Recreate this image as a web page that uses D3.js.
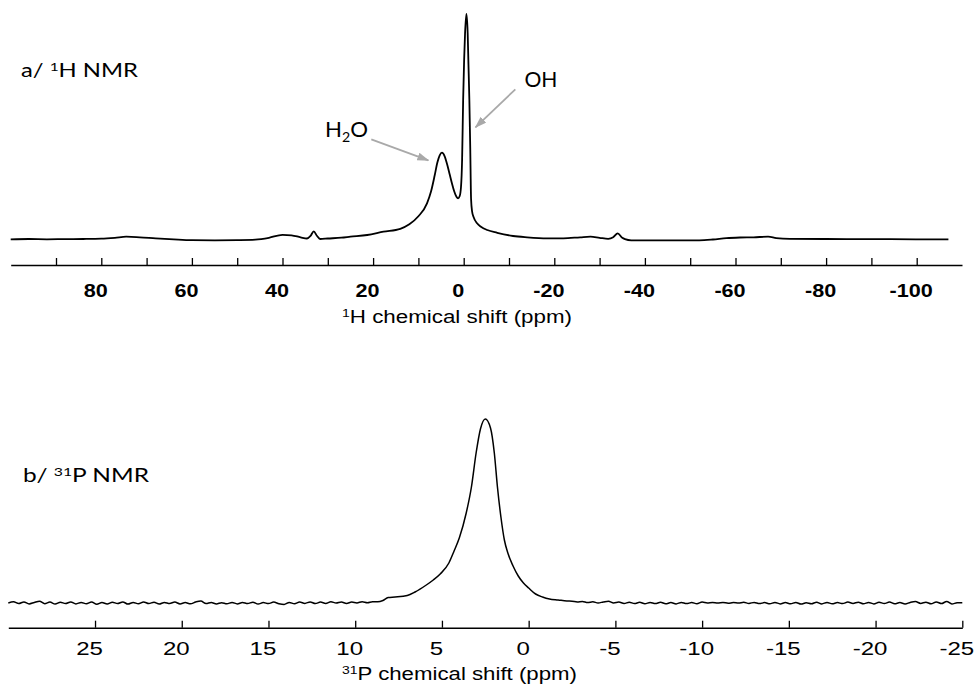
<!DOCTYPE html>
<html>
<head>
<meta charset="utf-8">
<script src="https://cdn.jsdelivr.net/npm/d3@7"></script>
<style>
  body { margin: 0; background: #fff; }
  svg { display: block; }
</style>
</head>
<body>
<svg id="chart" width="976" height="691"></svg>
<script>
// 1H spectrum, [ppm, intensity]
var protonSpectrum = [
  [100,0],[96,0.3],[92,0],[88,0.2],[84,0.3],[80,0.6],[77,1.5],[74.5,2.6],[71.5,2],[68,1],[64,0],
  [60,-0.8],[55,-1],[50,-0.8],[46,-0.3],[43,1.5],[40,4.5],[38,4],[36,2],[34.6,0.8],[33.8,3.5],
  [33.1,8],[32.4,3.5],[31.7,0.3],[30,0.8],[27,1.6],[25,2.6],[21.3,4.3],[17.7,7.6],[14,10.5],
  [12,15],[10,23],[8.1,36],[7.2,48],[6.4,64],[5.8,77],[5.3,84],[4.8,86.6],[4.2,83],[3.66,75],
  [3.1,65],[2.6,56],[2.1,48],[1.6,42.5],[1.24,41],[0.9,43],[0.6,52],[0.35,80],[0.12,140],[-0.1,180],
  [-0.3,206],[-0.6,225.3],[-0.88,206],[-1.05,175],[-1.25,139],[-1.45,90],[-1.63,40],[-1.85,28],
  [-2.2,22],[-2.95,16],[-3.8,12.6],[-5.2,9.3],[-7.4,6.5],[-10.9,3.3],[-14,2],[-18.4,1],[-22,1],
  [-25.7,2],[-28,2.6],[-30,1.5],[-31.9,0.5],[-33,2],[-34,6],[-35,1.5],[-35.6,0.2],[-37,-1],
  [-45,-1],[-52,-1],[-55,-0.2],[-58,1.2],[-61,1.8],[-64,2],[-67.2,2.6],[-69,1.2],[-72,0.4],[-80,0.3],
  [-90,0.2],[-100,0],[-107,0]
];

// 31P spectrum, [ppm, intensity]
var phosphorusSpectrum = [
  [30,0],[29.7,1.2],[29.4,-0.6],[29.1,1],[28.8,-0.9],[28.5,0.6],[28.2,1.8],[27.9,-0.7],[27.6,0.9],
  [27.3,-1],[27,0.8],[26.7,-0.5],[26.4,1.1],[26.1,-0.9],[25.8,0.6],[25.5,-0.8],[25.2,0.9],
  [24.9,-1.3],[24.6,0.5],[24.3,-0.9],[24,0.8],[23.7,-0.6],[23.4,1.1],[23.1,-1.1],[22.8,0.6],
  [22.5,-0.8],[22.2,1],[21.9,-0.6],[21.6,0.8],[21.3,-1],[21,0.6],[20.7,-0.5],[20.4,0.9],
  [20.1,-0.9],[19.8,0.4],[19.5,-0.8],[19.2,1],[18.9,2],[18.6,-0.6],[18.3,0.5],[18,-0.9],
  [17.7,0.3],[17.4,-0.8],[17.1,0.6],[16.8,-0.9],[16.5,0.5],[16.2,-0.6],[15.9,0.8],[15.6,-1.1],
  [15.3,0.4],[15,-0.6],[14.7,0.9],[14.4,-0.7],[14.1,-1.5],[13.8,0.6],[13.5,-0.8],[13.2,0.9],
  [12.9,-0.4],[12.6,1.1],[12.3,-0.6],[12,0.9],[11.7,-0.4],[11.4,1.2],[11.1,0],[10.8,1],
  [10.5,-0.4],[10.2,0.9],[9.9,0.1],[9.6,1.3],[9.3,0.3],[9,1.3],[8.7,1.2],
  [8.4,2.5],[8.1,5.5],[7.7,6],[7,7.5],[6.55,11],[5.9,18],[5.5,23],[5.1,29],[4.6,40],[4.3,52],
  [4,65],[3.6,90],[3.3,116],[3.03,150],[2.78,174],[2.5,184],[2.2,175],[1.98,150],[1.8,116],
  [1.6,86],[1.4,63],[1.2,50],[0.9,37],[0.6,27],[0.3,20],[0,15],[-0.4,9],[-0.8,6],[-1.2,4],
  [-1.7,3],[-2.2,2],
  [-2.5,1.8],[-2.8,1.1],[-3.1,1.6],[-3.4,0.5],[-3.7,1.2],[-4,0.1],[-4.3,1],[-4.6,1.8],[-4.9,0],
  [-5.2,0.9],[-5.5,-0.5],[-5.8,0.8],[-6.1,-0.6],[-6.4,0.7],[-6.7,-0.8],[-7,0.6],[-7.3,-0.6],
  [-7.6,0.7],[-7.9,-0.8],[-8.2,0.4],[-8.5,-0.9],[-8.8,0.6],[-9.1,-0.6],[-9.4,0.4],[-9.7,-0.7],
  [-10,0.9],[-10.3,0.1],[-10.6,0.5],[-10.9,0],[-11.2,0.5],[-11.5,-0.2],[-11.8,0.4],[-12.1,0],
  [-12.4,0.7],[-12.7,-0.4],[-13,0.6],[-13.3,-0.6],[-13.6,0.4],[-13.9,-0.8],[-14.2,0.6],[-14.5,-0.9],
  [-14.8,0.4],[-15.1,-0.8],[-15.4,0.6],[-15.7,-1.1],[-16,0.2],[-16.3,-0.8],[-16.6,0.8],[-16.9,-0.9],
  [-17.2,0.6],[-17.5,-0.8],[-17.8,0.4],[-18.1,-0.6],[-18.4,0.9],[-18.7,-0.4],[-19,0.8],[-19.3,-0.8],
  [-19.6,0.6],[-19.9,-0.9],[-20.2,0.8],[-20.5,-0.6],[-20.8,0.9],[-21.1,-0.8],[-21.4,0.4],[-21.7,-0.9],
  [-22,0.6],[-22.3,1.4],[-22.6,-0.4],[-22.9,0.8],[-23.2,-0.8],[-23.5,1.1],[-23.8,-0.6],[-24.1,1.6],
  [-24.4,-1],[-24.7,0.2],[-25,0.3]
];

var protonTicks = [90,80,70,60,50,40,30,20,10,0,-10,-20,-30,-40,-50,-60,-70,-80,-90,-100];
var protonLabels = [80,60,40,20,0,-20,-40,-60,-80,-100];
var phosphorusTicks = [25,20,15,10,5,0,-5,-10,-15,-20,-25];

// peak annotations: label anchor and arrow tail/tip, all in [ppm, intensity]
var peakNotes = [
  { sub: ["H","2","O"], at: [30.6,102], from: [20.4,100], to: [7.8,79], width: 43 },
  { sub: ["OH"], at: [-13.4,152], from: [-11.4,150], to: [-2.6,112], width: 33 }
];

var svg = d3.select("#chart");
var grey = "#a9a9a9";
var axisFont = "'Liberation Sans', Arial, sans-serif";
var titleFont = "Lato, 'Open Sans', sans-serif";

// the picture is a bit wider than its fonts, so stretch text to measured widths
function stretch(sel, factor) {
  sel.each(function () {
    var w = this.getComputedTextLength();
    d3.select(this).attr("textLength", w * factor).attr("lengthAdjust", "spacingAndGlyphs");
  });
}

svg.append("defs").append("marker")
  .attr("id", "head")
  .attr("markerUnits", "userSpaceOnUse")
  .attr("markerWidth", 12).attr("markerHeight", 10)
  .attr("refX", 11).attr("refY", 4)
  .attr("orient", "auto")
  .append("path").attr("d", "M0,0 L12,4 L0,8 Z").attr("fill", grey);

// ---- panel a: 1H ----
var xH = d3.scaleLinear().domain([100, -110]).range([10.7, 962]);
var yH = d3.scaleLinear().domain([0, 225.3]).range([239.3, 14]);

var lineH = d3.line().x(d => xH(d[0])).y(d => yH(d[1])).curve(d3.curveMonotoneX);
svg.append("path").datum(protonSpectrum)
  .attr("d", lineH).attr("fill", "none").attr("stroke", "#000").attr("stroke-width", 1.8)
  .attr("stroke-linejoin", "round");

var axH = svg.append("g").attr("transform", "translate(0,265)")
  .call(d3.axisBottom(xH).tickValues(protonTicks).tickSize(-7).tickSizeOuter(0).tickPadding(19)
    .tickFormat(d => protonLabels.indexOf(d) >= 0 ? String(d) : ""));
axH.select(".domain").attr("stroke-width", 1.6);
axH.selectAll(".tick line").attr("stroke-width", 1.3);
axH.selectAll(".tick text").attr("font-family", axisFont).attr("font-size", 18)
  .attr("font-weight", "bold").attr("fill", "#000").attr("dx", -6).call(stretch, 1.2);

var tH = svg.append("text").attr("x", 342).attr("y", 323)
  .attr("font-family", axisFont).attr("font-size", 17.5).attr("fill", "#000");
tH.append("tspan").attr("font-size", 11).attr("dy", -6).text("1");
tH.append("tspan").attr("dy", 6).text("H chemical shift (ppm)");
tH.attr("textLength", 230).attr("lengthAdjust", "spacingAndGlyphs");

var lab1 = svg.append("text").attr("x", 21).attr("y", 77)
  .attr("font-family", titleFont).attr("font-size", 18.5).attr("fill", "#000");
lab1.append("tspan").text("a/ ");
lab1.append("tspan").attr("font-size", 12).attr("dy", -6).text("1");
lab1.append("tspan").attr("dy", 6).text("H NMR");
lab1.attr("textLength", 117).attr("lengthAdjust", "spacingAndGlyphs");

peakNotes.forEach(function (n) {
  svg.append("line")
    .attr("x1", xH(n.from[0])).attr("y1", yH(n.from[1]))
    .attr("x2", xH(n.to[0])).attr("y2", yH(n.to[1]))
    .attr("stroke", grey).attr("stroke-width", 1.8).attr("marker-end", "url(#head)");
  var t = svg.append("text").attr("x", xH(n.at[0])).attr("y", yH(n.at[1]))
    .attr("font-family", titleFont).attr("font-size", 22).attr("fill", "#000");
  n.sub.forEach(function (s, i) {
    var ts = t.append("tspan").text(s);
    if (s === "2") ts.attr("font-size", 14).attr("dy", 5);
    else if (i > 0) ts.attr("dy", -5);
  });
  t.attr("textLength", n.width).attr("lengthAdjust", "spacingAndGlyphs");
});

// ---- panel b: 31P ----
var xP = d3.scaleLinear().domain([30, -25]).range([8.3, 962.3]);
var yP = d3.scaleLinear().domain([0, 184]).range([603, 419]);

var lineP = d3.line().x(d => xP(d[0])).y(d => yP(d[1])).curve(d3.curveMonotoneX);
svg.append("path").datum(phosphorusSpectrum)
  .attr("d", lineP).attr("fill", "none").attr("stroke", "#000").attr("stroke-width", 1.5)
  .attr("stroke-linejoin", "round");

var axP = svg.append("g").attr("transform", "translate(0,627.7)")
  .call(d3.axisBottom(xP).tickValues(phosphorusTicks).tickSize(-7).tickSizeOuter(0).tickPadding(14)
    .tickFormat(d => String(d)));
axP.select(".domain").attr("stroke-width", 1.6);
axP.selectAll(".tick line").attr("stroke-width", 1.3);
axP.selectAll(".tick text").attr("font-family", axisFont).attr("font-size", 18.5)
  .attr("fill", "#000").attr("dx", -6).call(stretch, 1.3);

var tP = svg.append("text").attr("x", 342).attr("y", 680)
  .attr("font-family", axisFont).attr("font-size", 17.5).attr("fill", "#000");
tP.append("tspan").attr("font-size", 11).attr("dy", -6).text("31");
tP.append("tspan").attr("dy", 6).text("P chemical shift (ppm)");
tP.attr("textLength", 235).attr("lengthAdjust", "spacingAndGlyphs");

var lab2 = svg.append("text").attr("x", 23).attr("y", 482)
  .attr("font-family", titleFont).attr("font-size", 18.5).attr("fill", "#000");
lab2.append("tspan").text("b/ ");
lab2.append("tspan").attr("font-size", 12).attr("dy", -6).text("31");
lab2.append("tspan").attr("dy", 6).text("P NMR");
lab2.attr("textLength", 126).attr("lengthAdjust", "spacingAndGlyphs");
</script>
</body>
</html>
